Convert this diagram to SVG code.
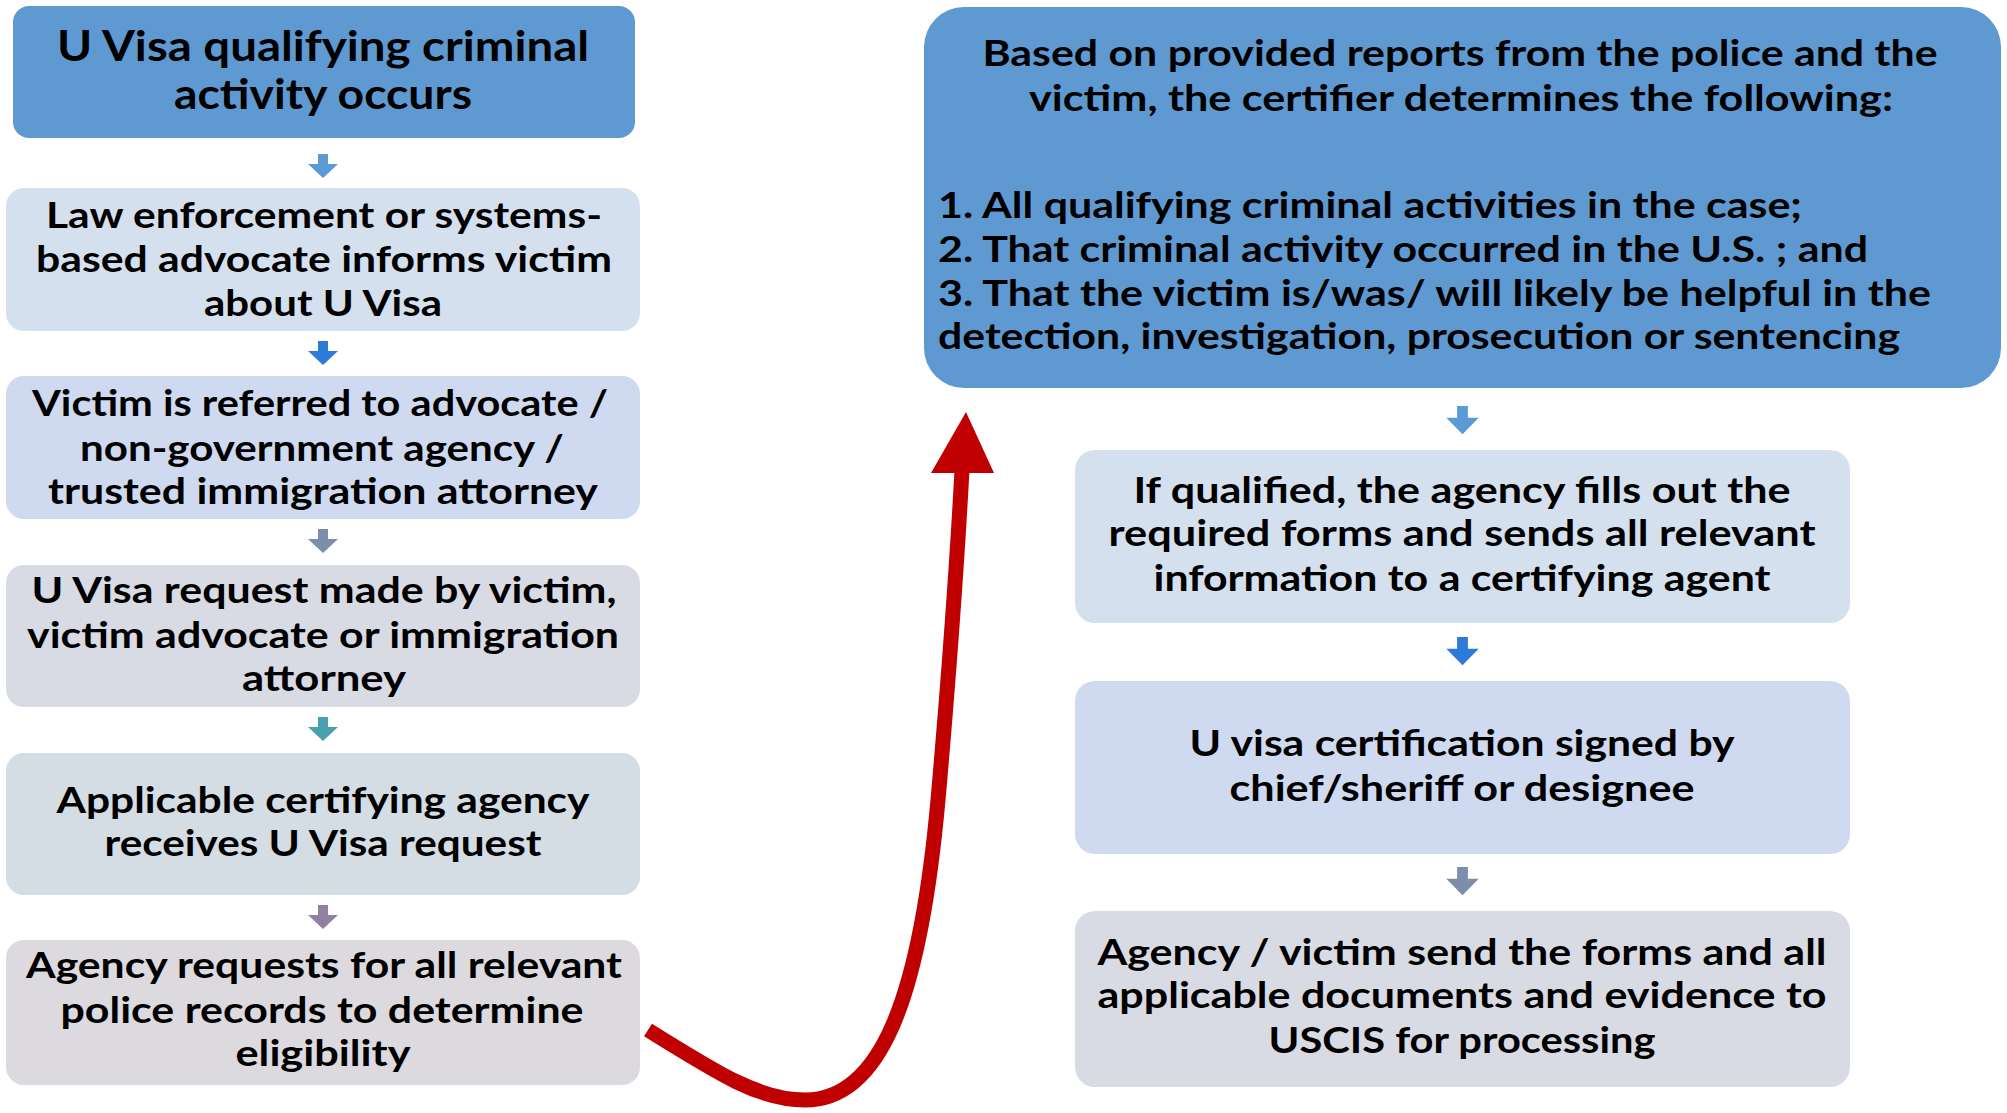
<svg xmlns="http://www.w3.org/2000/svg" width="2007" height="1113" viewBox="0 0 2007 1113">
<defs>
<style>
.t{font-family:Lato,"Open Sans","Liberation Sans",sans-serif;font-weight:700;fill:#000000;text-anchor:middle;}
.s{font-size:37px;}
.b{font-size:42px;}
.m{font-size:36px;}
.l{text-anchor:start;}
.c1{fill:#5f99d1;}
.c2{fill:#d5e0ef;}
.c3{fill:#cfdaf0;}
.c4{fill:#d9dbe4;}
.c5{fill:#d5dde4;}
.c6{fill:#dcdadf;}
</style>
<path id="da" d="M-5 0H5V10H15L0 24L-15 10H-5Z"/>
</defs>
<rect width="2007" height="1113" fill="#ffffff"/>

<g id="connectors">
<use href="#da" x="323" y="154" fill="#5b9bd5"/>
<use href="#da" x="323" y="341" fill="#2e7ad8"/>
<use href="#da" x="323" y="529" fill="#7d8eab"/>
<use href="#da" x="323" y="717" fill="#4ba0ad"/>
<use href="#da" x="323" y="905" fill="#8f819f"/>
<use href="#da" transform="translate(1462.5 406) scale(1.08 1.18)" fill="#5b9bd5"/>
<use href="#da" transform="translate(1462.5 637) scale(1.08 1.18)" fill="#2e7ad8"/>
<use href="#da" transform="translate(1462.5 867) scale(1.08 1.18)" fill="#7d8eab"/>
<path d="M648 1030 C720 1075 760 1100 805 1100 C880 1100 920 1000 938 800 C945 720 955 600 962 470" fill="none" stroke="#c00000" stroke-width="15"/>
<polygon points="966,412 931,473 994,473" fill="#c00000"/>
</g>

<g id="n1">
<rect x="13" y="6" width="622" height="132" rx="16" class="c1"/>
<text class="t b" x="323" y="61" textLength="532" lengthAdjust="spacingAndGlyphs">U Visa qualifying criminal</text>
<text class="t b" x="323" y="109" textLength="298" lengthAdjust="spacingAndGlyphs">activity occurs</text>
</g>
<g id="n2">
<rect x="6" y="188" width="634" height="143" rx="18" class="c2"/>
<text class="t s" x="324" y="228" textLength="556" lengthAdjust="spacingAndGlyphs">Law enforcement or systems-</text>
<text class="t s" x="324" y="272" textLength="576" lengthAdjust="spacingAndGlyphs">based advocate informs victim</text>
<text class="t s" x="323" y="316" textLength="238" lengthAdjust="spacingAndGlyphs">about U Visa</text>
</g>
<g id="n3">
<rect x="6" y="376" width="634" height="143" rx="18" class="c3"/>
<text class="t s" x="320" y="416" textLength="576" lengthAdjust="spacingAndGlyphs">Victim is referred to advocate /</text>
<text class="t s" x="322" y="461" textLength="484" lengthAdjust="spacingAndGlyphs">non-government agency /</text>
<text class="t s" x="323" y="504" textLength="550" lengthAdjust="spacingAndGlyphs">trusted immigration attorney</text>
</g>
<g id="n4">
<rect x="6" y="565" width="634" height="142" rx="18" class="c4"/>
<text class="t s" x="324" y="603" textLength="585" lengthAdjust="spacingAndGlyphs">U Visa request made by victim,</text>
<text class="t s" x="323" y="648" textLength="592" lengthAdjust="spacingAndGlyphs">victim advocate or immigration</text>
<text class="t s" x="324" y="691" textLength="164" lengthAdjust="spacingAndGlyphs">attorney</text>
</g>
<g id="n5">
<rect x="6" y="753" width="634" height="142" rx="18" class="c5"/>
<text class="t s" x="323" y="813" textLength="533" lengthAdjust="spacingAndGlyphs">Applicable certifying agency</text>
<text class="t s" x="323" y="856" textLength="437" lengthAdjust="spacingAndGlyphs">receives U Visa request</text>
</g>
<g id="n6">
<rect x="6" y="940" width="634" height="145" rx="18" class="c6"/>
<text class="t s" x="324" y="978" textLength="596" lengthAdjust="spacingAndGlyphs">Agency requests for all relevant</text>
<text class="t s" x="322" y="1023" textLength="523" lengthAdjust="spacingAndGlyphs">police records to determine</text>
<text class="t s" x="323" y="1066" textLength="175" lengthAdjust="spacingAndGlyphs">eligibility</text>
</g>
<g id="n7">
<rect x="924" y="7" width="1077" height="381" rx="40" class="c1"/>
<text class="t m" x="1460" y="66" textLength="955" lengthAdjust="spacingAndGlyphs">Based on provided reports from the police and the</text>
<text class="t m" x="1461" y="111" textLength="864" lengthAdjust="spacingAndGlyphs">victim, the certifier determines the following:</text>
<text class="t m l" x="938" y="218" textLength="864" lengthAdjust="spacingAndGlyphs">1. All qualifying criminal activities in the case;</text>
<text class="t m l" x="938" y="262" textLength="930" lengthAdjust="spacingAndGlyphs">2. That criminal activity occurred in the U.S. ; and</text>
<text class="t m l" x="938" y="306" textLength="993" lengthAdjust="spacingAndGlyphs">3. That the victim is/was/ will likely be helpful in the</text>
<text class="t m l" x="938" y="349" textLength="962" lengthAdjust="spacingAndGlyphs">detection, investigation, prosecution or sentencing</text>
</g>
<g id="n8">
<rect x="1075" y="450" width="775" height="173" rx="20" class="c2"/>
<text class="t s" x="1462" y="503" textLength="657" lengthAdjust="spacingAndGlyphs">If qualified, the agency fills out the</text>
<text class="t s" x="1462" y="546" textLength="707" lengthAdjust="spacingAndGlyphs">required forms and sends all relevant</text>
<text class="t s" x="1462" y="591" textLength="617" lengthAdjust="spacingAndGlyphs">information to a certifying agent</text>
</g>
<g id="n9">
<rect x="1075" y="681" width="775" height="173" rx="20" class="c3"/>
<text class="t s" x="1462" y="756" textLength="545" lengthAdjust="spacingAndGlyphs">U visa certification signed by</text>
<text class="t s" x="1462" y="801" textLength="465" lengthAdjust="spacingAndGlyphs">chief/sheriff or designee</text>
</g>
<g id="n10">
<rect x="1075" y="911" width="775" height="176" rx="20" class="c4"/>
<text class="t s" x="1462" y="965" textLength="729" lengthAdjust="spacingAndGlyphs">Agency / victim send the forms and all</text>
<text class="t s" x="1462" y="1008" textLength="729" lengthAdjust="spacingAndGlyphs">applicable documents and evidence to</text>
<text class="t s" x="1462" y="1053" textLength="387" lengthAdjust="spacingAndGlyphs">USCIS for processing</text>
</g>
</svg>
